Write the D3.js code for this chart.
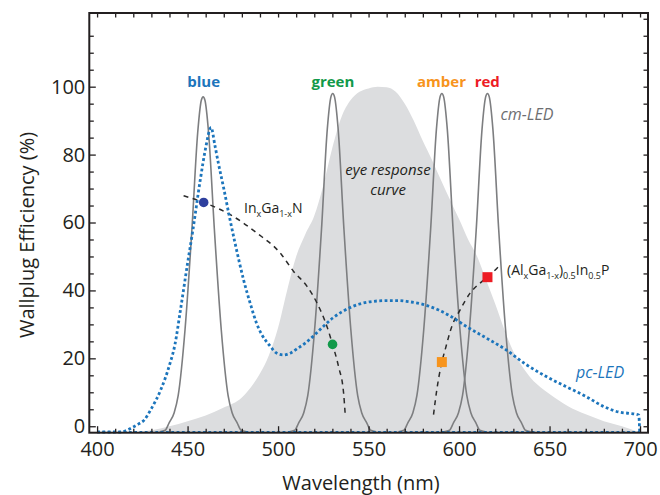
<!DOCTYPE html>
<html><head><meta charset="utf-8">
<script src="https://cdn.jsdelivr.net/npm/d3@7"></script>
<style>
body{margin:0;background:#fff}
svg{display:block}
text{font-family:"Open Sans",sans-serif}
</style>
</head><body><svg id="c" width="660" height="495"></svg>
<script>
// ---- data ----
const eyeNm  = [420,430,440,450,460,470,480,485,490,495,500,505,510,515,520,525,530,535,540,545,550,555,560,565,570,575,580,585,590,595,600,605,610,615,620,625,630,635,640,645,650,660,670,680,690,700];
const eyeVal = [-1.9,-1.2,0,1.5,3.2,5.5,8.5,11.5,15.5,21,29,40,50,56.5,62,71,82,91,96,98.5,99.5,100,99.8,98.5,95,90,84,78.5,72.5,66.7,61,55,50,43,36,28.5,22,17.5,14,11.5,9.5,6,3.5,1.5,0,-1.9];

const cmBlueNm   = [434.6,437.6,439.8,442.6,444.8,448.6,452.4,455.6,457.6,458.6,459.6,461.6,464.8,468.6,472.4,474.6,477.4,479.6,482.6];
const cmBlueVal  = [-1.6,-1.2,1,4,9,28.5,58,86.5,96,97,96,86.5,58,28.5,9,4,1,-1.2,-1.6];
const cmGreenNm  = [506.2,509.2,511.4,514.2,516.4,520.2,524,527.2,529.2,530.2,531.2,533.2,536.4,540.2,544,546.2,549,551.2,554.2];
const cmGreenVal = [-1.6,-1.2,1,4,9,28.5,58,87.5,97,98,97,87.5,58,28.5,9,4,1,-1.2,-1.6];
const cmAmberNm  = [566.5,569.5,571.7,574.5,576.7,580.5,584.3,587.5,589.5,590.5,591.5,593.5,596.7,600.5,604.3,606.5,609.3,611.5,614.5];
const cmAmberVal = [-1.6,-1.2,1,4,9,28.5,58,87.5,97,98,97,87.5,58,28.5,9,4,1,-1.2,-1.6];
const cmRedNm    = [591.7,594.7,596.9,599.7,601.9,605.7,609.5,612.7,614.7,615.7,616.7,618.7,621.9,625.7,629.5,631.7,634.5,636.7,639.7];
const cmRedVal   = [-1.6,-1.2,1,4,9,28.5,58,87.5,97,98,97,87.5,58,28.5,9,4,1,-1.2,-1.6];

const pcNm  = [400,413,416,420,423,426,430,435,440,443,446,450,453,457,460,463,465,467,470,473,476,481,485,488,491,495,500,503,507,511,515,520,525,530,535,540,545,550,560,567,572,580,588,595,604,615,626,637,648,659,670,680,689,694,699.3,699.8];
const pcVal = [-1.7,-1.7,-1.3,-0.2,0.7,1.8,5.2,10.5,18,24,34,48,58,72.5,82,88,83,77.5,70,62,54.5,43,35.5,30.5,27,24,21.3,21,21.6,23,24.5,26.8,29.4,31.8,33.6,35,36,36.6,37,37,36.7,35.9,34.4,32.5,29.4,26,22.5,18.2,14.7,11.7,8.8,5.8,4.1,3.8,3.3,-1.7];

const inganNm  = [447.8,458.9,473.6,488.3,501.2,508.6,516,521.5,527,530.1,533.4,536.2,537.1];
const inganVal = [67.9,65.9,62.3,56.9,51,45.6,41.2,36.3,29.4,24.1,17.6,9.8,3.4];
const algaNm   = [585.9,587.7,590.5,592.3,596,600.6,606.1,612.6,615.7,622.7];
const algaVal  = [3.4,10.7,18.9,22.5,29.4,34.3,39.2,42.6,43.9,47.5];

const markerNames = ["blue","green","amber","red"];
const markerNm    = [458.9,530.1,590.5,615.7];
const markerVal   = [65.9,24.1,18.9,43.9];
const markerShape = ["circle","circle","square","square"];
const markerColor = ["#2e3f9e","#12994a","#f7941d","#ed1c24"];

const peakLabels  = ["blue","green","amber","red"];
const peakNm      = [458.9,530.3,590.3,615.6];
const peakColors  = ["#1c75bc","#12994a","#f7941d","#ed1c24"];

const xTickLabels = [400,450,500,550,600,650,700];
const yTickLabels = [0,20,40,60,80,100];

// ---- scales ----
const L=89.3, R=648, T=13, B=432.7;
const x = d3.scaleLinear().domain([395.7,704.4]).range([L,R]);
const y = d3.scaleLinear().domain([-1.9,121.7]).range([B,T]);
const svg = d3.select("#c");
const ink = "#231f20";
const pts = (a,b)=>d3.zip(a,b);

// eye response
svg.append("path").datum(pts(eyeNm,eyeVal))
  .attr("d", d3.area().x(d=>x(d[0])).y0(y(-1.9)).y1(d=>y(d[1])).curve(d3.curveMonotoneX))
  .attr("fill","#dcdddf");

// cm-LED peaks
const line = d3.line().x(d=>x(d[0])).y(d=>y(d[1])).curve(d3.curveMonotoneX);
[[cmBlueNm,cmBlueVal],[cmGreenNm,cmGreenVal],[cmAmberNm,cmAmberVal],[cmRedNm,cmRedVal]].forEach(([a,b])=>{
  svg.append("path").datum(pts(a,b)).attr("d",line)
    .attr("fill","none").attr("stroke","#7d7e80").attr("stroke-width",1.6);
});

// dashed material curves
[[inganNm,inganVal],[algaNm,algaVal]].forEach(([a,b])=>{
  svg.append("path").datum(pts(a,b)).attr("d",line)
    .attr("fill","none").attr("stroke","#2a2a2a").attr("stroke-width",1.5)
    .attr("stroke-dasharray","5,4.5");
});

// pc-LED dotted
const pcLine = d3.line().x(d=>x(d[0])).y(d=>y(d[1])).curve(d3.curveMonotoneX);
svg.append("path").datum(pts(pcNm,pcVal)).attr("d",pcLine)
  .attr("fill","none").attr("stroke","#1c75bc").attr("stroke-width",2.8)
  .attr("stroke-dasharray","2.8,2.5");
svg.append("line").attr("x1",x(400)).attr("x2",x(699.8)).attr("y1",y(-1.7)).attr("y2",y(-1.7))
  .attr("stroke","#1c75bc").attr("stroke-width",2.2).attr("stroke-dasharray","2.8,2.5");

// markers
markerNames.forEach((n,i)=>{
  const cx=x(markerNm[i]), cy=y(markerVal[i]);
  if(markerShape[i]==="circle"){
    svg.append("circle").attr("cx",cx).attr("cy",cy).attr("r",4.8).attr("fill",markerColor[i]);
  } else {
    svg.append("rect").attr("x",cx-5).attr("y",cy-5).attr("width",10).attr("height",10).attr("fill",markerColor[i]);
  }
});

// frame + ticks
const xMinor = d3.range(400,701,10);
const yMinor = d3.range(0,121,5);
const gB = svg.append("g").attr("transform",`translate(0,${B})`);
gB.call(d3.axisBottom(x).tickValues(xMinor.filter(v=>v%50!==0)).tickSize(-4).tickFormat(""));
const gB2 = svg.append("g").attr("transform",`translate(0,${B})`);
gB2.call(d3.axisBottom(x).tickValues(xTickLabels).tickSize(-6.5).tickPadding(9).tickFormat(d3.format("d")));
const gT = svg.append("g").attr("transform",`translate(0,${T})`);
gT.call(d3.axisTop(x).tickValues(xMinor).tickSize(-4.5).tickFormat(""));
const gL = svg.append("g").attr("transform",`translate(${L},0)`);
gL.call(d3.axisLeft(y).tickValues(yMinor.filter(v=>v%20!==0)).tickSize(-4.5).tickFormat(""));
const gL2 = svg.append("g").attr("transform",`translate(${L},0)`);
gL2.call(d3.axisLeft(y).tickValues(yTickLabels).tickSize(-6.5).tickPadding(4).tickFormat(d3.format("d")));
const gR = svg.append("g").attr("transform",`translate(${R},0)`);
gR.call(d3.axisRight(y).tickValues(yMinor).tickSize(-4.5).tickFormat(""));
svg.selectAll(".domain").remove();
svg.selectAll(".tick line").attr("stroke",ink).attr("stroke-width",1.3);
svg.selectAll(".tick text").attr("fill",ink).style("font-size","20px").style("font-family","'Open Sans',sans-serif");
svg.append("rect").attr("x",L).attr("y",T).attr("width",R-L).attr("height",B-T)
  .attr("fill","none").attr("stroke",ink).attr("stroke-width",2);

// axis titles
svg.append("text").attr("x",361).attr("y",490).attr("text-anchor","middle")
  .attr("fill",ink).style("font-size","20px").text("Wavelength (nm)");
svg.append("text").attr("transform","translate(33.5,235) rotate(-90)").attr("text-anchor","middle")
  .attr("fill",ink).style("font-size","20px").text("Wallplug Efficiency (%)");

// peak labels
peakLabels.forEach((t,i)=>{
  svg.append("text").attr("x",x(peakNm[i])).attr("y",87).attr("text-anchor","middle")
    .attr("fill",peakColors[i]).style("font-size","15px").style("font-weight","bold").text(t);
});

// annotations
svg.append("text").attr("x",527).attr("y",120).attr("text-anchor","middle").attr("fill","#6d6e71")
  .style("font-size","16px").style("font-style","italic").text("cm-LED");
svg.append("text").attr("x",600).attr("y",378).attr("text-anchor","middle").attr("fill","#1c75bc")
  .style("font-size","16px").style("font-style","italic").text("pc-LED");
svg.append("text").attr("x",388).attr("y",174.5).attr("text-anchor","middle").attr("fill",ink)
  .style("font-size","15px").style("font-style","italic").text("eye response");
svg.append("text").attr("x",388).attr("y",194.5).attr("text-anchor","middle").attr("fill",ink)
  .style("font-size","15px").style("font-style","italic").text("curve");

function subText(xp, yp, parts){
  const t = svg.append("text").attr("x",xp).attr("y",yp).attr("fill",ink).style("font-size","14px");
  let shifted=false;
  parts.forEach(([s,sub])=>{
    const ts=t.append("tspan").text(s);
    if(sub && !shifted){ ts.attr("dy",4).style("font-size","9px"); shifted=true; }
    else if(sub && shifted){ ts.style("font-size","9px"); }
    else if(!sub && shifted){ ts.attr("dy",-4); shifted=false; }
  });
}
subText(244,213,[["In",0],["x",1],["Ga",0],["1-x",1],["N",0]]);
subText(507,275,[["(Al",0],["x",1],["Ga",0],["1-x",1],[")",0],["0.5",1],["In",0],["0.5",1],["P",0]]);
</script>
</body></html>
